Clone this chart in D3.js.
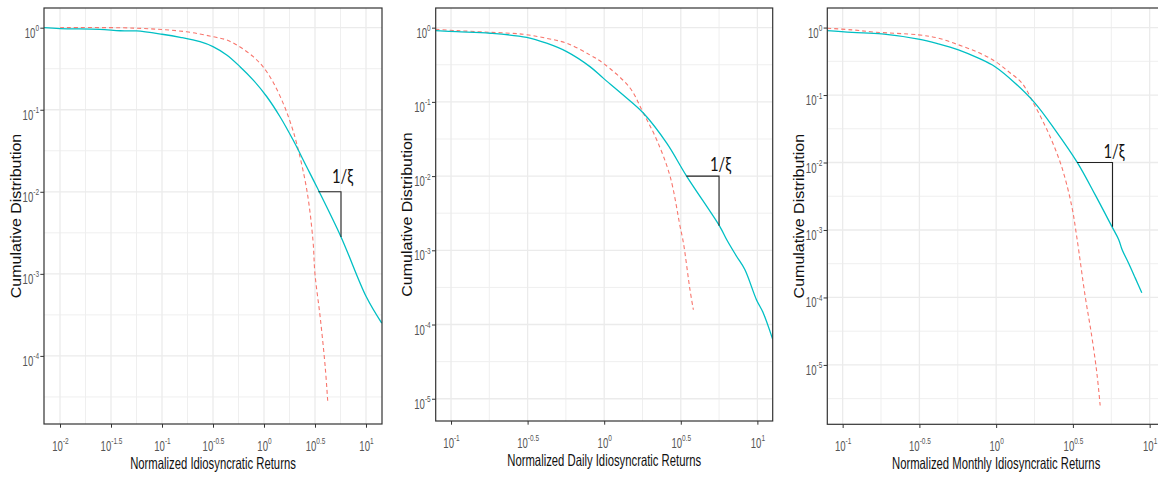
<!DOCTYPE html>
<html>
<head>
<meta charset="utf-8">
<script src="https://cdn.jsdelivr.net/npm/d3@7"></script>
<style>
  body { margin: 0; background: #fff; }
  text { font-family: "Liberation Sans", Arial, sans-serif; }
</style>
</head>
<body>
<div id="chart"></div>
<script>
// ---- data (x = normalized return, y = cumulative distribution) ----

// panel 1: all idiosyncratic returns
var p1EmpX = [0.00697, 0.01, 0.0245, 0.0389, 0.0562, 0.1, 0.151, 0.236, 0.316, 0.431, 0.582, 0.785, 1.062, 1.436, 1.93, 2.618, 3.29, 5.69, 10.07, 14.26];
var p1EmpY = [1.0, 0.973, 0.955, 0.918, 0.912, 0.832, 0.764, 0.676, 0.589, 0.465, 0.335, 0.230, 0.145, 0.0822, 0.0427, 0.0202, 0.0115, 0.00282, 0.000525, 0.000251];
var p1FitX = [0.01, 0.0525, 0.174, 0.316, 0.431, 0.582, 0.785, 0.977, 1.233, 1.55, 1.8, 2.09, 2.63, 3.02, 3.16, 3.55, 3.98, 4.22];
var p1FitY = [1.0, 0.989, 0.891, 0.776, 0.708, 0.582, 0.443, 0.335, 0.215, 0.118, 0.0720, 0.0389, 0.0105, 0.00257, 0.001, 0.000302, 0.0000741, 0.0000275];
var p1Slope = [[3.41, 0.01], [5.69, 0.01], [5.69, 0.00282]];

// panel 2: daily
var p2EmpX = [0.0794, 0.1089, 0.18, 0.312, 0.4207, 0.569, 0.807, 0.986, 1.33, 1.8, 2.56, 3.45, 5.69, 6.31, 7.31, 8.28, 9.86, 10.89, 12.59];
var p2EmpY = [0.912, 0.883, 0.841, 0.741, 0.617, 0.475, 0.2985, 0.209, 0.124, 0.0708, 0.0278, 0.01, 0.00209, 0.00139, 0.000832, 0.00055, 0.000216, 0.000145, 0.0000631];
var p2FitX = [0.0794, 0.1089, 0.18, 0.296, 0.4207, 0.569, 0.807, 0.986, 1.47, 1.8, 2.2, 2.69, 3.13, 3.29, 3.63, 3.82];
var p2FitY = [0.95, 0.912, 0.867, 0.815, 0.719, 0.617, 0.429, 0.331, 0.155, 0.0708, 0.0309, 0.01, 0.00209, 0.00126, 0.000295, 0.000158];
var p2Slope = [[3.44, 0.01], [5.62, 0.01], [5.62, 0.00214]];

// panel 3: monthly
var p3EmpX = [0.0794, 0.115, 0.18, 0.312, 0.4207, 0.568, 0.767, 0.984, 1.33, 1.79, 2.42, 3.36, 4.42, 5.68, 6.28, 6.61, 7.28, 8.05, 8.89];
var p3EmpY = [0.904, 0.851, 0.807, 0.676, 0.574, 0.468, 0.352, 0.263, 0.15, 0.0759, 0.0305, 0.0102, 0.00331, 0.00112, 0.000724, 0.000513, 0.000324, 0.000195, 0.000117];
var p3FitX = [0.0794, 0.115, 0.163, 0.312, 0.4207, 0.568, 0.767, 0.984, 1.202, 1.47, 1.75, 2.19, 2.67, 3.11, 3.35, 3.8, 4.2, 4.53, 4.76];
var p3FitY = [0.977, 0.925, 0.855, 0.78, 0.697, 0.555, 0.427, 0.316, 0.223, 0.151, 0.0759, 0.0275, 0.0087, 0.00224, 0.000794, 0.000105, 0.0000263, 0.00000759, 0.00000251];
var p3Slope = [[3.36, 0.01], [5.73, 0.01], [5.73, 0.00112]];

// tick exponents (labels are 10^e)
var p1XTicks = [-2, -1.5, -1, -0.5, 0, 0.5, 1];
var p23XTicks = [-1, -0.5, 0, 0.5, 1];
var p1YTicks = [0, -1, -2, -3, -4];
var p23YTicks = [0, -1, -2, -3, -4, -5];

var xTitles = ["Normalized Idiosyncratic Returns", "Normalized Daily Idiosyncratic Returns", "Normalized Monthly Idiosyncratic Returns"];
var yTitle = "Cumulative Distribution";
var slopeLabel = "1/\u03BE";

function init() {
    var w = 1158;
    var h = 477;
    var squish = 0.685;   // the reference text is horizontally condensed

    var svg = d3.select("#chart")
                .append("svg")
                .attr("width", w)
                .attr("height", h);

    var panels = [
        { left: 44, top: 8, right: 382, bottom: 424, xe: [-2.157, 1.157], ye: [-4.83, 0.24],
          xt: p1XTicks, yt: p1YTicks, emp: [p1EmpX, p1EmpY], fit: [p1FitX, p1FitY], slope: p1Slope, labelDy: -9 },
        { left: 435.7, top: 8, right: 772.7, bottom: 421, xe: [-1.1, 1.1], ye: [-5.3, 0.265],
          xt: p23XTicks, yt: p23YTicks, emp: [p2EmpX, p2EmpY], fit: [p2FitX, p2FitY], slope: p2Slope, labelDy: -5 },
        { left: 827.3, top: 8, right: 1165, bottom: 424.3, xe: [-1.1, 1.1], ye: [-5.88, 0.29],
          xt: p23XTicks, yt: p23YTicks, emp: [p3EmpX, p3EmpY], fit: [p3FitX, p3FitY], slope: p3Slope, labelDy: -5 }
    ];

    function pow10(e) { return Math.pow(10, e); }

    function tickLabel(g, e, anchor) {
        var t = g.append("text")
                 .attr("text-anchor", anchor)
                 .attr("fill", "#555")
                 .attr("font-size", 14);
        t.append("tspan").text("10");
        t.append("tspan").attr("dy", -6.5).attr("font-size", 9.5).text(String(e));
    }

    panels.forEach(function(p, k) {
        var x = d3.scaleLog().domain(p.xe.map(pow10)).range([p.left, p.right]);
        var y = d3.scaleLog().domain(p.ye.map(pow10)).range([p.bottom, p.top]);
        var g = svg.append("g");

        var clipId = "clip" + k;
        g.append("clipPath").attr("id", clipId)
         .append("rect")
         .attr("x", p.left).attr("y", p.top)
         .attr("width", p.right - p.left).attr("height", p.bottom - p.top);

        // minor grid (half way between major ticks)
        var xStep = p.xt[1] - p.xt[0];
        var xMinor = [], yMinor = [];
        for (var e = p.xt[0] - xStep / 2; e <= p.xe[1]; e += xStep) if (e >= p.xe[0]) xMinor.push(e);
        for (var f = 0.5; f > p.ye[0]; f -= 1) if (f < p.ye[1]) yMinor.push(f);

        var grid = g.append("g").attr("clip-path", "url(#" + clipId + ")");
        grid.selectAll(".xminor").data(xMinor).enter().append("line")
            .attr("x1", function(d) { return x(pow10(d)); }).attr("x2", function(d) { return x(pow10(d)); })
            .attr("y1", p.top).attr("y2", p.bottom)
            .attr("stroke", "#efefef").attr("stroke-width", 1);
        grid.selectAll(".yminor").data(yMinor).enter().append("line")
            .attr("y1", function(d) { return y(pow10(d)); }).attr("y2", function(d) { return y(pow10(d)); })
            .attr("x1", p.left).attr("x2", p.right)
            .attr("stroke", "#efefef").attr("stroke-width", 1);
        grid.selectAll(".xmajor").data(p.xt).enter().append("line")
            .attr("x1", function(d) { return x(pow10(d)); }).attr("x2", function(d) { return x(pow10(d)); })
            .attr("y1", p.top).attr("y2", p.bottom)
            .attr("stroke", "#ebebeb").attr("stroke-width", 1.3);
        grid.selectAll(".ymajor").data(p.yt).enter().append("line")
            .attr("y1", function(d) { return y(pow10(d)); }).attr("y2", function(d) { return y(pow10(d)); })
            .attr("x1", p.left).attr("x2", p.right)
            .attr("stroke", "#ebebeb").attr("stroke-width", 1.3);

        // curves
        var line = d3.line()
                     .x(function(d) { return x(d[0]); })
                     .y(function(d) { return y(d[1]); })
                     .curve(d3.curveCatmullRom.alpha(0.5));
        var lines = g.append("g").attr("clip-path", "url(#" + clipId + ")");
        lines.append("path")
             .datum(d3.zip(p.fit[0], p.fit[1]))
             .attr("d", line)
             .attr("fill", "none")
             .attr("stroke", "#F8766D")
             .attr("stroke-width", 1.1)
             .attr("stroke-dasharray", "4,3");
        lines.append("path")
             .datum(d3.zip(p.emp[0], p.emp[1]))
             .attr("d", line)
             .attr("fill", "none")
             .attr("stroke", "#00BFC4")
             .attr("stroke-width", 1.3);

        // slope triangle
        g.append("path")
         .datum(p.slope)
         .attr("d", d3.line().x(function(d) { return x(d[0]); }).y(function(d) { return y(d[1]); }))
         .attr("fill", "none")
         .attr("stroke", "#222")
         .attr("stroke-width", 1.1);
        g.append("g")
         .attr("transform", "translate(" + (x(p.slope[1][0]) + 1.5) + "," + (y(p.slope[1][1]) + p.labelDy) + ") scale(0.8,1)")
         .append("text")
         .attr("text-anchor", "middle")
         .attr("font-size", 18.5)
         .style("font-family", "Lato, 'Open Sans', sans-serif")
         .attr("fill", "#111")
         .text(slopeLabel);

        // panel border
        g.append("rect")
         .attr("x", p.left).attr("y", p.top)
         .attr("width", p.right - p.left).attr("height", p.bottom - p.top)
         .attr("fill", "none").attr("stroke", "#333").attr("stroke-width", 1.2);

        // axes
        var gx = g.append("g")
                  .attr("transform", "translate(0," + p.bottom + ")")
                  .call(d3.axisBottom(x).tickValues(p.xt.map(pow10)).tickSize(3.7).tickSizeOuter(0).tickFormat(""));
        gx.select(".domain").remove();
        gx.selectAll(".tick line").attr("stroke", "#333");
        gx.selectAll(".tick").each(function(d, i) {
            var tg = d3.select(this).append("g").attr("transform", "translate(0,26.5) scale(" + squish + ",1)");
            tickLabel(tg, p.xt[i], "middle");
        });

        var gy = g.append("g")
                  .attr("transform", "translate(" + p.left + ",0)")
                  .call(d3.axisLeft(y).tickValues(p.yt.map(pow10)).tickSize(3.7).tickSizeOuter(0).tickFormat(""));
        gy.select(".domain").remove();
        gy.selectAll(".tick line").attr("stroke", "#333");
        gy.selectAll(".tick").each(function(d, i) {
            var tg = d3.select(this).append("g").attr("transform", "translate(-5,9.5) scale(" + squish + ",1)");
            tickLabel(tg, p.yt[i], "end");
        });

        // titles
        g.append("g")
         .attr("transform", "translate(" + ((p.left + p.right) / 2) + "," + (p.bottom + 44.5) + ") scale(" + squish + ",1)")
         .append("text")
         .attr("text-anchor", "middle")
         .attr("font-size", 16.5)
         .attr("fill", "#111")
         .text(xTitles[k]);
        g.append("g")
         .attr("transform", "translate(" + (p.left - 23.5) + "," + ((p.top + p.bottom) / 2) + ") scale(0.9,1) rotate(-90)")
         .append("text")
         .attr("text-anchor", "middle")
         .attr("font-size", 16)
         .attr("fill", "#111")
         .text(yTitle);
    });
}

window.onload = init;
</script>
</body>
</html>
